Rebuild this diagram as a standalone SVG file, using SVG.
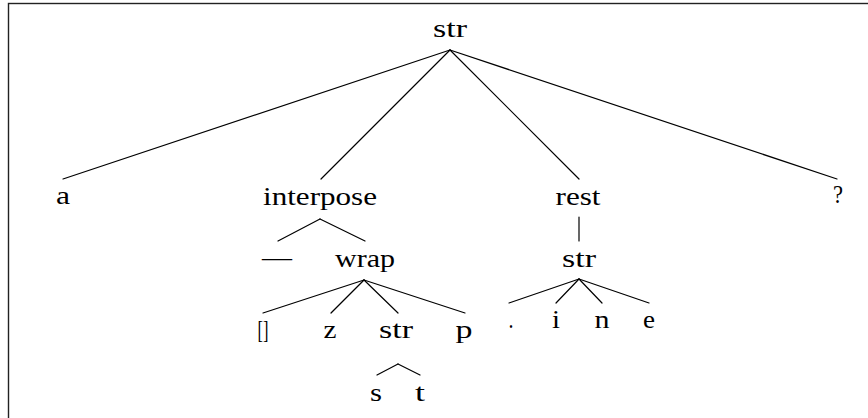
<svg xmlns="http://www.w3.org/2000/svg" width="868" height="418" viewBox="0 0 868 418">
<style>
text{font-family:"Liberation Serif","Times New Roman",serif;font-size:26px;fill:#000;text-anchor:middle}
.e line{stroke:#000;stroke-width:1.2;stroke-linecap:round}
</style>
<rect x="0" y="0" width="868" height="418" fill="#fff"/>
<rect x="8.5" y="3.5" width="900" height="500" fill="none" stroke="#222" stroke-width="1.4"/>
<g class="e" id="connectors">
<line x1="450" y1="50" x2="63" y2="179"/>
<line x1="450" y1="50" x2="321" y2="179"/>
<line x1="450" y1="50" x2="579" y2="179"/>
<line x1="450" y1="50" x2="837" y2="179"/>
<line x1="320" y1="219" x2="278" y2="241"/>
<line x1="320" y1="219" x2="365" y2="241"/>
<line x1="364" y1="280" x2="263" y2="313"/>
<line x1="364" y1="280" x2="331" y2="313"/>
<line x1="364" y1="280" x2="398" y2="313"/>
<line x1="364" y1="280" x2="465" y2="313"/>
<line x1="398" y1="364" x2="377" y2="375"/>
<line x1="398" y1="364" x2="420" y2="375"/>
<line x1="579" y1="217" x2="579" y2="241"/>
<line x1="579" y1="279" x2="509" y2="303"/>
<line x1="579" y1="279" x2="556" y2="303"/>
<line x1="579" y1="279" x2="602" y2="303"/>
<line x1="579" y1="279" x2="649" y2="303"/>
</g>
<g id="n-root"><text x="450" y="37" textLength="34" lengthAdjust="spacingAndGlyphs">str</text></g>
<g id="n-a"><text x="63" y="204" textLength="14" lengthAdjust="spacingAndGlyphs">a</text></g>
<g id="n-interpose"><text x="320" y="205" textLength="114" lengthAdjust="spacingAndGlyphs">interpose</text></g>
<g id="n-rest"><text x="578" y="205" textLength="45" lengthAdjust="spacingAndGlyphs">rest</text></g>
<g id="n-q"><text x="838" y="203" textLength="10" lengthAdjust="spacingAndGlyphs">?</text></g>
<g id="n-dash"><text x="277" y="266" textLength="30" lengthAdjust="spacingAndGlyphs">—</text></g>
<g id="n-wrap"><text x="365" y="267" textLength="60" lengthAdjust="spacingAndGlyphs">wrap</text></g>
<g id="n-br"><text x="263" y="338" textLength="11" lengthAdjust="spacingAndGlyphs">[]</text></g>
<g id="n-z"><text x="330" y="338" textLength="13" lengthAdjust="spacingAndGlyphs">z</text></g>
<g id="n-str2"><text x="396" y="338" textLength="34" lengthAdjust="spacingAndGlyphs">str</text></g>
<g id="n-p"><text x="464" y="338" textLength="17" lengthAdjust="spacingAndGlyphs">p</text></g>
<g id="n-s"><text x="376" y="401" textLength="12" lengthAdjust="spacingAndGlyphs">s</text></g>
<g id="n-t"><text x="420" y="401" textLength="10" lengthAdjust="spacingAndGlyphs">t</text></g>
<g id="n-str3"><text x="579" y="267" textLength="34" lengthAdjust="spacingAndGlyphs">str</text></g>
<g id="n-dot"><text x="511" y="328" textLength="5" lengthAdjust="spacingAndGlyphs">.</text></g>
<g id="n-i"><text x="556" y="328" textLength="8" lengthAdjust="spacingAndGlyphs">i</text></g>
<g id="n-n"><text x="602" y="328" textLength="15" lengthAdjust="spacingAndGlyphs">n</text></g>
<g id="n-e"><text x="649" y="328" textLength="12" lengthAdjust="spacingAndGlyphs">e</text></g>
</svg>
